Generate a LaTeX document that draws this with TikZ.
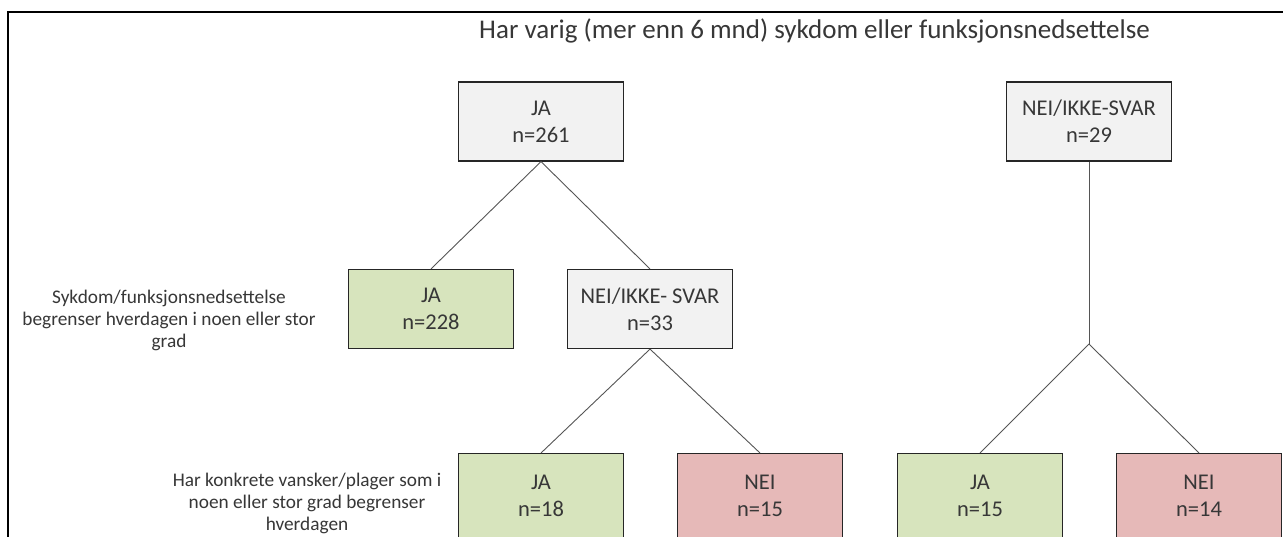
\documentclass[tikz,border=0pt]{standalone}
\usepackage{fontspec}
\setmainfont{Carlito}
\begin{document}
\begin{tikzpicture}[x=1pt,y=1pt,
  box/.style={draw=lineColor,line width=1.2pt,minimum width=165pt,minimum height=79pt,
    inner sep=0pt,align=center,text=textColor,font=\fontsize{22.5}{27}\selectfont},
  lowbox/.style={box,minimum height=85pt,anchor=north},
  sidelabel/.style={align=center,text=textColor,inner sep=0pt,font=\fontsize{19.3}{22}\selectfont},
  link/.style={draw=linkColor,line width=0.9pt}]
\definecolor{lineColor}{RGB}{38,38,38}
\definecolor{textColor}{RGB}{55,55,55}
\definecolor{linkColor}{RGB}{85,85,85}
\definecolor{greyFill}{RGB}{242,242,242}
\definecolor{greenFill}{RGB}{215,228,189}
\definecolor{redFill}{RGB}{230,185,184}
\path[use as bounding box,fill=white] (0,0) rectangle (1283,537);
\draw[line width=2pt] (8,-2) -- (8,525) -- (1290,525);

\node[anchor=base,text=textColor,inner sep=0pt,font=\fontsize{27}{32}\selectfont] (title) at (814.5,498) {Har varig (mer enn 6 mnd) sykdom eller funksjonsnedsettelse};

% first level
\node[box,fill=greyFill] (ja0) at (541,415.5) {JA\\n=261};
\node[box,fill=greyFill] (nei0) at (1089,415.5) {NEI/IKKE-SVAR\\n=29};

% second level
\node[sidelabel] (lbA) at (169,217) {Sykdom/funksjonsnedsettelse\\begrenser hverdagen i noen eller stor\\grad};
\node[box,fill=greenFill] (jaA) at (431,228) {JA\\n=228};
\node[box,fill=greyFill] (neiA) at (650,228) {NEI/IKKE- SVAR\\n=33};
\coordinate (split) at (1089,193);

% third level
\node[sidelabel] (lbB) at (307,34) {Har konkrete vansker/plager som i\\noen eller stor grad begrenser\\hverdagen};
\node[lowbox,fill=greenFill] (jaB) at (541,84) {JA\\n=18};
\node[lowbox,fill=redFill] (neiB) at (760,84) {NEI\\n=15};
\node[lowbox,fill=greenFill] (jaC) at (980,84) {JA\\n=15};
\node[lowbox,fill=redFill] (neiC) at (1199,84) {NEI\\n=14};

\draw[link] (ja0.south) -- (jaA.north);
\draw[link] (ja0.south) -- (neiA.north);
\draw[link] (neiA.south) -- (jaB.north);
\draw[link] (neiA.south) -- (neiB.north);
\draw[link] (nei0.south) -- (split);
\draw[link] (split) -- (jaC.north);
\draw[link] (split) -- (neiC.north);
\end{tikzpicture}
\end{document}
